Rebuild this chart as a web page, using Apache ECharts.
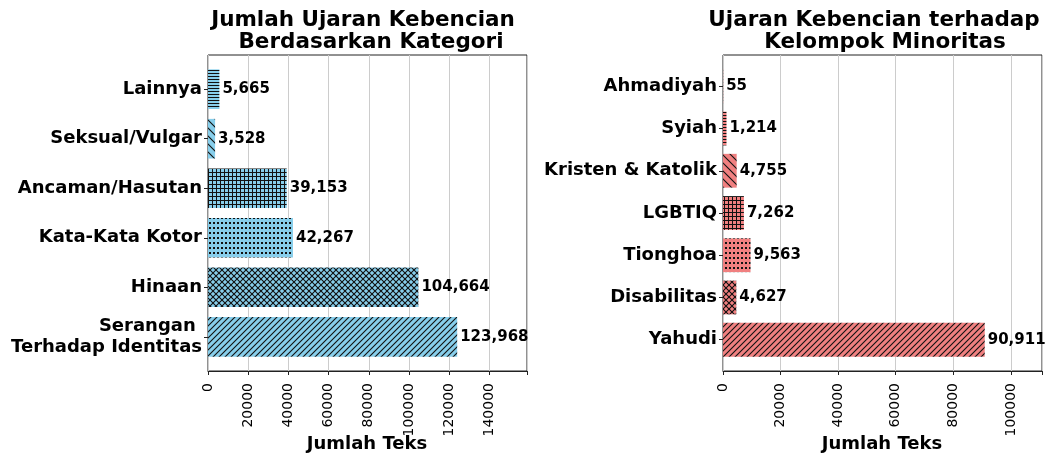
<!DOCTYPE html>
<html lang="en">
<head>
    <meta charset="UTF-8">
    <title>Ujaran Kebencian</title>
    <style>
        html, body { margin: 0; padding: 0; background: #fff; }
    </style>
    <script src="https://cdn.jsdelivr.net/npm/echarts@6/dist/echarts.min.js"></script>
</head>
<body>
    <div id="main" style="width:1051px;height:457px"></div>
    <script>
        // data, top to bottom as drawn
        var kategori = ['Lainnya', 'Seksual/Vulgar', 'Ancaman/Hasutan', 'Kata-Kata Kotor', 'Hinaan', 'Serangan \nTerhadap Identitas'];
        var jumlahKategori = [5665, 3528, 39153, 42267, 104664, 123968];
        var hatchKategori = ['-', '\\', '+', '.', 'x', '/'];

        var minoritas = ['Ahmadiyah', 'Syiah', 'Kristen & Katolik', 'LGBTIQ', 'Tionghoa', 'Disabilitas', 'Yahudi'];
        var jumlahMinoritas = [55, 1214, 4755, 7262, 9563, 4627, 90911];
        var hatchMinoritas = ['-', '-', '\\', '+', '.', 'x', '/'];

        var judulKiri = ['Jumlah Ujaran Kebencian', 'Berdasarkan Kategori'];
        var judulKanan = ['Ujaran Kebencian terhadap', 'Kelompok Minoritas'];
        var namaSumbuX = 'Jumlah Teks';

        var font = 'DejaVu Sans';

        // hatch tiles drawn on a small canvas
        function hatch(kind, bg) {
            var s = {'/': 6, '\\': 8, 'x': 6, '+': 4, '.': 4, '-': 3}[kind];
            var h = kind == '.' ? 5 : s;
            var c = document.createElement('canvas');
            c.width = s; c.height = h;
            var g = c.getContext('2d');
            g.fillStyle = bg;
            g.fillRect(0, 0, s, h);
            g.strokeStyle = '#111';
            g.fillStyle = '#111';
            g.lineWidth = 1.1;
            function up() { g.beginPath(); g.moveTo(-1, s + 1); g.lineTo(s + 1, -1); g.moveTo(-1, 1); g.lineTo(1, -1); g.moveTo(s - 1, s + 1); g.lineTo(s + 1, s - 1); g.stroke(); }
            function down() { g.beginPath(); g.moveTo(-1, -1); g.lineTo(s + 1, s + 1); g.moveTo(s - 1, -1); g.lineTo(s + 1, 1); g.moveTo(-1, s - 1); g.lineTo(1, s + 1); g.stroke(); }
            if (kind == '/') up();
            if (kind == '\\') down();
            if (kind == 'x') { up(); down(); }
            if (kind == '+') { g.fillRect(0, 0, s, 1); g.fillRect(0, 0, 1, s); }
            if (kind == '-') { g.fillRect(0, 1, s, 1); }
            if (kind == '.') { g.fillRect(1, 2, 2, 2); }
            return {image: c, repeat: 'repeat'};
        }

        function items(vals, kinds, bg) {
            var out = [];
            for (var i = 0; i < vals.length; i++) {
                out.push({value: vals[i], itemStyle: {color: hatch(kinds[i], bg)}});
            }
            return out;
        }

        var myChart = echarts.init(document.getElementById('main'));

        var frameTop = 55, frameBottom = 86;
        // matplotlib leaves a margin above and below the bars
        var innerKiri = (316 - 316 / 6.38 * 6) / 2;
        var innerKanan = (316 - 316 / 7.48 * 7) / 2;
        var maxKiri = 158700, maxKanan = 110800;

        function valueAxis(grid, max, show) {
            return {
                type: 'value', gridIndex: grid, min: 0, max: max, interval: 20000, show: show,
                axisLine: {show: true, lineStyle: {color: '#222'}},
                axisTick: {show: true, length: 4, lineStyle: {color: '#222'}},
                axisLabel: {
                    rotate: 90, margin: 12, fontFamily: font, fontSize: 14, color: '#000',
                    formatter: function (v) { return v % 20000 === 0 ? String(v) : ''; }
                },
                splitLine: {show: true, lineStyle: {color: '#cccccc', width: 1}}
            };
        }

        function catAxis(grid, cats) {
            return {
                type: 'category', gridIndex: grid, data: cats, inverse: true,
                axisLine: {show: false},
                axisTick: {show: true, length: 4, alignWithLabel: true, lineStyle: {color: '#222'}},
                axisLabel: {margin: 6, fontFamily: font, fontWeight: 'bold', fontSize: 18, color: '#000', lineHeight: 21}
            };
        }

        function labelOpt() {
            return {
                show: true, position: 'right', distance: 3,
                fontFamily: font, fontWeight: 'bold', fontSize: 15, color: '#000',
                formatter: function (p) { return p.value.toLocaleString('en-US'); }
            };
        }

        function judul(text, x, y, size) {
            return {text: text, left: x, top: y, textAlign: 'center', padding: 0,
                    textStyle: {fontFamily: font, fontWeight: 'bold', fontSize: size, color: '#000'}};
        }

        var option = {
            animation: false,
            title: [
                judul(judulKiri[0], 363, 9, 21.5), judul(judulKiri[1], 371, 31, 21.5),
                judul(judulKanan[0], 874, 9, 21.5), judul(judulKanan[1], 885, 31, 21.5),
                judul(namaSumbuX, 367, 435, 18), judul(namaSumbuX, 882, 435, 18)
            ],
            grid: [
                {left: 208, right: 524, top: frameTop, bottom: frameBottom, show: true, borderColor: '#222', borderWidth: 1, outerBoundsMode: 'none'},
                {left: 208, right: 524, top: frameTop + innerKiri, bottom: frameBottom + innerKiri, outerBoundsMode: 'none'},
                {left: 723, right: 9, top: frameTop, bottom: frameBottom, show: true, borderColor: '#222', borderWidth: 1, outerBoundsMode: 'none'},
                {left: 723, right: 9, top: frameTop + innerKanan, bottom: frameBottom + innerKanan, outerBoundsMode: 'none'}
            ],
            xAxis: [
                valueAxis(0, maxKiri, true),
                valueAxis(1, maxKiri, false),
                valueAxis(2, maxKanan, true),
                valueAxis(3, maxKanan, false)
            ],
            yAxis: [
                {type: 'value', gridIndex: 0, show: false},
                catAxis(1, kategori),
                {type: 'value', gridIndex: 2, show: false},
                catAxis(3, minoritas)
            ],
            series: [
                {type: 'bar', xAxisIndex: 1, yAxisIndex: 1, barCategoryGap: '20%',
                 data: items(jumlahKategori, hatchKategori, '#87CEEB'), label: labelOpt()},
                {type: 'bar', xAxisIndex: 3, yAxisIndex: 3, barCategoryGap: '20%',
                 data: items(jumlahMinoritas, hatchMinoritas, '#F08080'), label: labelOpt()}
            ]
        };
        myChart.setOption(option);
    </script>
</body>
</html>
